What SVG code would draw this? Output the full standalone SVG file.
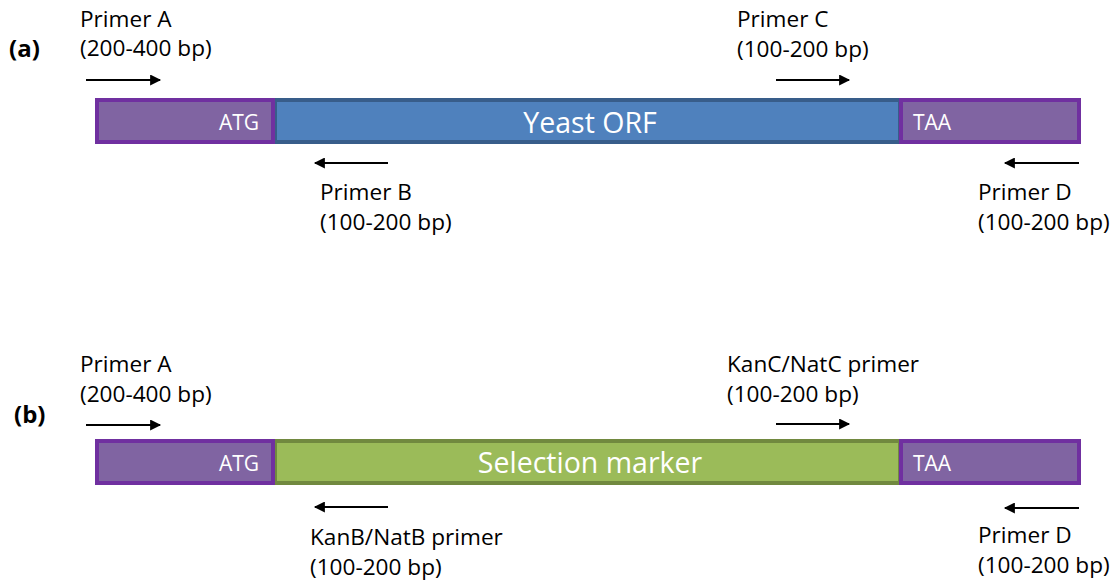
<svg xmlns="http://www.w3.org/2000/svg" width="1115" height="584" viewBox="0 0 1115 584">
<style>
text{font-family:"Open Sans","Liberation Sans",sans-serif;}
.lbl{font-size:22.6px;fill:#000;}
.tag{font-size:24px;font-weight:bold;fill:#000;}
.end{fill:#8064A2;stroke:#7030A0;stroke-width:4;}
.orf{fill:#4F81BD;stroke:#385D8A;stroke-width:4;}
.mk{fill:#9BBB59;stroke:#71893F;stroke-width:4;}
.in{font-size:21px;fill:#fff;}
.big{font-size:28.5px;fill:#fff;text-anchor:middle;}
.arr{stroke:#000;stroke-width:2;fill:none;marker-end:url(#ah);}
</style>
<defs>
<marker id="ah" viewBox="0 0 10 10" refX="9" refY="5" markerWidth="6" markerHeight="5.5" orient="auto" markerUnits="strokeWidth">
<path d="M0,0 L10,5 L0,10 z" fill="#000"/>
</marker>
</defs>
<rect width="1115" height="584" fill="#fff"/>
<g id="panel-a">
<text class="tag" x="9" y="57">(a)</text>
<g id="a-orf"><rect class="orf" x="275" y="100" width="625" height="42"/><text class="big" x="590" y="133">Yeast ORF</text></g>
<g id="a-atg"><rect class="end" x="97" y="100" width="176" height="42"/><text class="in" x="259" y="130" text-anchor="end">ATG</text></g>
<g id="a-taa"><rect class="end" x="901" y="100" width="178" height="42"/><text class="in" x="913" y="130">TAA</text></g>
<g id="a-primerA"><text class="lbl" x="80" y="27">Primer A</text><text class="lbl" x="80" y="56">(200-400 bp)</text></g>
<g id="a-primerB"><text class="lbl" x="320" y="200">Primer B</text><text class="lbl" x="320" y="230">(100-200 bp)</text></g>
<g id="a-primerC"><text class="lbl" x="737" y="27">Primer C</text><text class="lbl" x="737" y="57">(100-200 bp)</text></g>
<g id="a-primerD"><text class="lbl" x="978" y="200">Primer D</text><text class="lbl" x="978" y="230">(100-200 bp)</text></g>
</g>
<g id="panel-b">
<text class="tag" x="14" y="423">(b)</text>
<g id="b-marker"><rect class="mk" x="275" y="441" width="625" height="42"/><text class="big" x="590" y="473">Selection marker</text></g>
<g id="b-atg"><rect class="end" x="97" y="441" width="176" height="42"/><text class="in" x="259" y="471" text-anchor="end">ATG</text></g>
<g id="b-taa"><rect class="end" x="901" y="441" width="178" height="42"/><text class="in" x="913" y="471">TAA</text></g>
<g id="b-primerA"><text class="lbl" x="80" y="372">Primer A</text><text class="lbl" x="80" y="402">(200-400 bp)</text></g>
<g id="b-primerB"><text class="lbl" x="310" y="545">KanB/NatB primer</text><text class="lbl" x="310" y="575">(100-200 bp)</text></g>
<g id="b-primerC"><text class="lbl" x="727" y="372">KanC/NatC primer</text><text class="lbl" x="727" y="402">(100-200 bp)</text></g>
<g id="b-primerD"><text class="lbl" x="978" y="543">Primer D</text><text class="lbl" x="978" y="573">(100-200 bp)</text></g>
</g>
<g id="connectors">
<line class="arr" x1="86" y1="80" x2="160" y2="80"/>
<line class="arr" x1="388" y1="163" x2="315" y2="163"/>
<line class="arr" x1="776" y1="80" x2="849" y2="80"/>
<line class="arr" x1="1079" y1="163" x2="1005" y2="163"/>
<line class="arr" x1="86" y1="425" x2="160" y2="425"/>
<line class="arr" x1="388" y1="507" x2="315" y2="507"/>
<line class="arr" x1="776" y1="424" x2="849" y2="424"/>
<line class="arr" x1="1079" y1="508" x2="1005" y2="508"/>
</g>
</svg>
